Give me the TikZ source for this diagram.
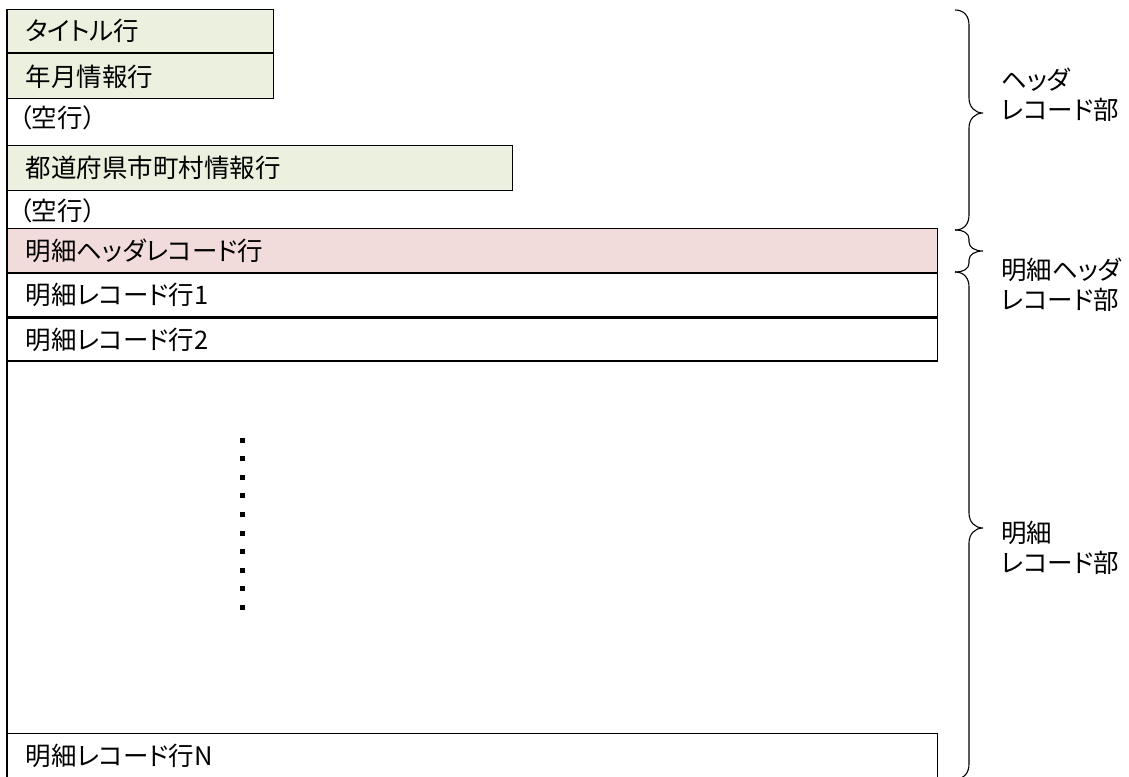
\documentclass[tikz,border=0pt]{standalone}
\usepackage{fontspec}
\setmainfont{Noto Sans CJK JP}[RawFeature=+palt]
\usepackage{xcolor}
\usetikzlibrary{positioning}

\definecolor{rowgreen}{HTML}{EBF1DE}
\definecolor{rowpink}{HTML}{F2DCDB}

\tikzset{
	every node/.style = {font=\fontsize{25.5}{30}\selectfont},
	rowbox/.style = {draw=black, line width=1.2pt, anchor=north west, inner xsep=18pt, inner ysep=0pt, align=left},
	blankrow/.style = {anchor=west, inner sep=0pt},
	partlabel/.style = {anchor=west, align=left, inner sep=0pt},
	bracepath/.style = {draw=black, line width=1.1pt},
}

\begin{document}
\begin{tikzpicture}[x=1pt, y=-1pt]
	\useasboundingbox (0,0) rectangle (1129,776);
	
	% header records
	\node[rowbox, fill=rowgreen, text width=230pt, minimum height=43pt] (title) at (7,9) {タイトル行};
	\node[rowbox, fill=rowgreen, text width=230pt, minimum height=45pt] (yearmonth) at (title.south west) {年月情報行};
	\node[blankrow] (blankA) at (19,118) {（空行）};
	\node[rowbox, fill=rowgreen, text width=469pt, minimum height=45pt] (pref) at (7,145) {都道府県市町村情報行};
	\node[blankrow] (blankB) at (19,211) {（空行）};
	
	% detail records
	\node[rowbox, fill=rowpink, text width=894pt, minimum height=44pt] (dhead) at (7,228) {明細ヘッダレコード行};
	\node[rowbox, text width=894pt, minimum height=43pt] (rec1) at (dhead.south west) {明細レコード行1};
	\node[rowbox, text width=894pt, minimum height=43pt] (rec2) at (rec1.south west) {明細レコード行2};
	\node[rowbox, text width=894pt, minimum height=44pt] (recN) at (7,733) {明細レコード行N};
	
	\draw[line width=1.2pt] (title.north west) -- (recN.south west);
	
	% dotted gap
	\foreach \i in {0,...,9} {
		\fill[black] (239.5,437.5+18.6*\i) rectangle ++(5,5);
	}
	
	% braces
	\def\bx{955}
	\foreach \top/\tip/\bot/\r in {10/113/230/15, 230/251/272/9, 272/528/779/15} {
		\draw[bracepath] (\bx,\top) .. controls (\bx+9,\top) and (\bx+14,\top+0.4*\r) .. (\bx+14,\top+\r)
			-- (\bx+14,\tip-\r) .. controls (\bx+14,\tip-0.4*\r) and (\bx+20,\tip) .. (\bx+28,\tip)
			.. controls (\bx+20,\tip) and (\bx+14,\tip+0.4*\r) .. (\bx+14,\tip+\r)
			-- (\bx+14,\bot-\r) .. controls (\bx+14,\bot-0.4*\r) and (\bx+9,\bot) .. (\bx,\bot);
	}
	
	\node[partlabel] (headpart) at (1001,95) {ヘッダ\\レコード部};
	\node[partlabel] (dheadpart) at (1001,285) {明細ヘッダ\\レコード部};
	\node[partlabel] (recpart) at (1001,548) {明細\\レコード部};
	
\end{tikzpicture}
\end{document}
